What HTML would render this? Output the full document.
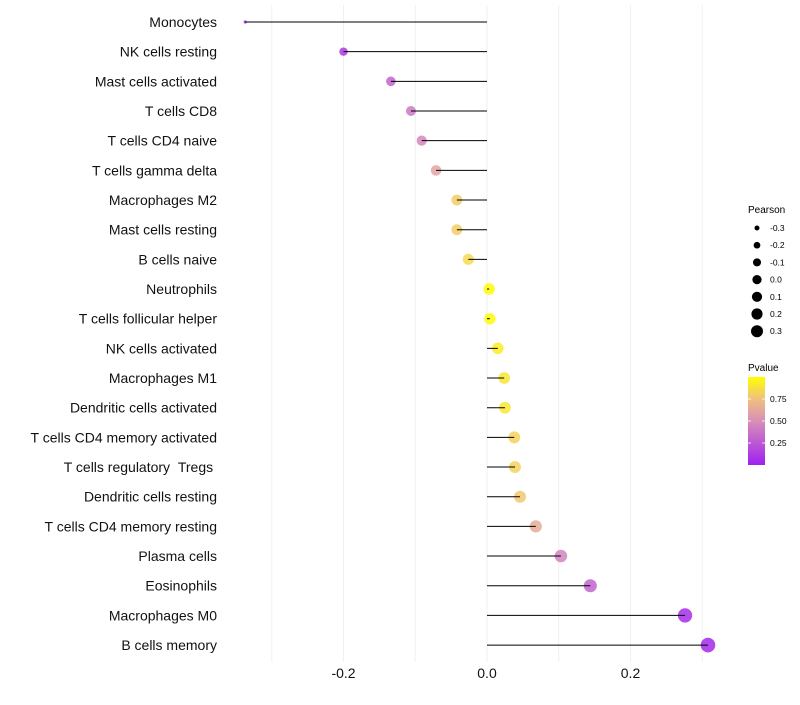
<!DOCTYPE html>
<html><head><meta charset="utf-8"><style>
body{margin:0;background:#fff;font-family:"Liberation Sans",sans-serif}
</style></head><body>
<svg id="c" width="800" height="700" xmlns="http://www.w3.org/2000/svg" font-family="Liberation Sans, sans-serif">
<defs><linearGradient id="pg" x1="0" y1="1" x2="0" y2="0">
<stop offset="0" stop-color="#A020F0"/><stop offset="0.5" stop-color="#D88FB8"/><stop offset="0.75" stop-color="#F0C080"/><stop offset="1" stop-color="#FFFF00"/></linearGradient></defs>
<g id="grid"></g>
<g id="dots"></g>
<g id="marks"></g>
<g id="ylab"></g>
<g id="xlab"></g>
<g id="legend"></g>
</svg>
<script>
const cells=["Monocytes","NK cells resting","Mast cells activated","T cells CD8","T cells CD4 naive","T cells gamma delta","Macrophages M2","Mast cells resting","B cells naive","Neutrophils","T cells follicular helper","NK cells activated","Macrophages M1","Dendritic cells activated","T cells CD4 memory activated","T cells regulatory\u00a0\u00a0Tregs\u00a0","Dendritic cells resting","T cells CD4 memory resting","Plasma cells","Eosinophils","Macrophages M0","B cells memory"];
const pearson=[-0.337,-0.200,-0.134,-0.106,-0.091,-0.071,-0.042,-0.042,-0.026,0.003,0.004,0.015,0.024,0.025,0.038,0.039,0.046,0.068,0.103,0.144,0.276,0.308];
const pvalue=[0.05,0.12,0.30,0.40,0.47,0.60,0.80,0.80,0.85,0.99,0.98,0.93,0.90,0.90,0.82,0.82,0.78,0.65,0.45,0.30,0.06,0.04];
const xTicks=[-0.2,0.0,0.2];
const xGrid=[-0.3,-0.2,-0.1,0,0.1,0.2,0.3];
const sizeLegend=[-0.3,-0.2,-0.1,0.0,0.1,0.2,0.3];
const pTicks=[0.25,0.50,0.75];
const NS="http://www.w3.org/2000/svg";
const X=v=>487+v*717.5;
const Y=i=>22+i*29.67;
const pmin=Math.min(...pearson),pmax=Math.max(...pearson);
const R=v=>1.6+5.7*Math.sqrt((v-pmin)/(pmax-pmin));
function col(p){const s=[[0,[160,32,240]],[0.5,[216,143,184]],[0.75,[240,192,128]],[1,[255,255,0]]];
for(let k=0;k<s.length-1;k++){if(p<=s[k+1][0]){const t=(p-s[k][0])/(s[k+1][0]-s[k][0]);const a=s[k][1],b=s[k+1][1];
return `rgb(${a.map((c,j)=>Math.round(c+(b[j]-c)*t)).join(',')})`;}}return 'rgb(255,255,0)';}
function el(t,a,p,txt){const e=document.createElementNS(NS,t);for(const k in a)e.setAttribute(k,a[k]);if(txt!==undefined)e.textContent=txt;p.appendChild(e);return e;}
const g=document.getElementById('grid'),m=document.getElementById('marks'),dg=document.getElementById('dots'),yl=document.getElementById('ylab'),xl=document.getElementById('xlab'),lg=document.getElementById('legend');
xGrid.forEach(v=>{const l=el('line',{x1:X(v),x2:X(v),y1:5,y2:662,stroke:'#f0f0f0','stroke-width':1},g);

});
cells.forEach((c,i)=>{
const d=el('circle',{cx:X(pearson[i]),cy:Y(i),r:R(pearson[i]),fill:col(pvalue[i]),'fill-opacity':0.85},dg);


const s=el('line',{x1:X(0),x2:X(pearson[i]),y1:Y(i),y2:Y(i),stroke:'#000','stroke-width':1},m);


const t=el('text',{x:217,y:Y(i)+5,'text-anchor':'end','font-size':14,fill:'#111'},yl,c);

});
xTicks.forEach(v=>{const t=el('text',{x:X(v),y:678,'text-anchor':'middle','font-size':14,fill:'#111'},xl,v.toFixed(1));

});
let t=el('text',{x:748,y:213,'font-size':10},lg,'Pearson');


const rl=v=>Math.sqrt(6.25+(v+0.3)/0.6*29.75);
sizeLegend.forEach((v,k)=>{const y=228+k*17.2;
const c=el('circle',{cx:757,cy:y,r:rl(v),fill:'#000'},lg);


const tt=el('text',{x:770,y:y+3,'font-size':8.5},lg,v.toFixed(1));

});
t=el('text',{x:748,y:371,'font-size':10},lg,'Pvalue');


const bar=el('rect',{x:748,y:377,width:17,height:88,fill:'url(#pg)'},lg);


pTicks.forEach(p=>{const y=465-p*88;
el('line',{x1:748,x2:751,y1:y,y2:y,stroke:'#fff','stroke-width':0.8},lg);
el('line',{x1:762,x2:765,y1:y,y2:y,stroke:'#fff','stroke-width':0.8},lg);
const tt=el('text',{x:770,y:y+3,'font-size':8.5},lg,p.toFixed(2));

});
</script>
</body></html>
